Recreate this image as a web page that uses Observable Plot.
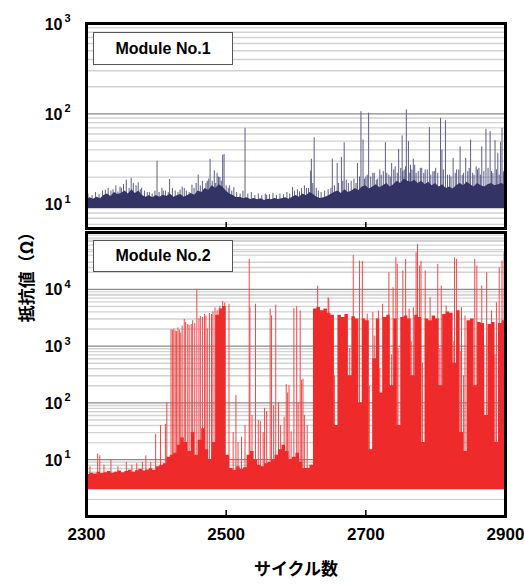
<!DOCTYPE html>
<html><head><meta charset="utf-8">
<script src="https://cdn.jsdelivr.net/npm/d3@7"></script>
<script src="https://cdn.jsdelivr.net/npm/@observablehq/plot@0.6"></script>
<style>
body{margin:0;background:#fff;}
#wrap{position:relative;width:524px;height:584px;overflow:hidden;background:#fff;}
#wrap svg{display:block;}
.legend{position:absolute;left:93px;width:140px;border:1px solid #555;background:#fff;font:bold 16px "Liberation Sans",Arial,sans-serif;display:flex;align-items:center;justify-content:center;box-sizing:border-box;color:#000;}
#ylab{position:absolute;left:25px;top:273px;transform:translate(-50%,-50%) rotate(-90deg);white-space:nowrap;font:bold 17px "Noto Sans CJK JP",sans-serif;color:#000;}
</style></head><body>
<div id="wrap"></div>
<script>
// ---- data ----
const xTicks = [2300, 2500, 2700, 2900];
const innerTicks = [2500, 2700];
const cycles = d3.range(2300, 2901, 5);

// Module No.1: upper edge of dense band (every 5 cycles), band floor, spikes
const m1Upper = [
 11.2,11.8,11.4,12.0,11.5,12.5,13.0,12.2,13.5,12.8,
 13.2,14.0,13.0,14.5,13.2,14.0,12.5,12.0,12.4,11.8,
 12.5,12.0,12.6,12.2,13.0,12.0,12.4,12.8,12.0,12.5,
 13.2,12.6,14.0,13.5,15.0,14.2,16.0,15.0,16.5,15.5,
 14.0,13.0,12.5,11.8,12.0,11.5,11.8,11.3,11.6,11.2,
 11.5,11.0,11.4,11.2,11.6,11.3,11.5,11.8,11.4,12.0,
 12.5,12.0,13.0,12.4,13.5,12.8,12.0,11.6,11.8,12.2,
 12.8,13.5,14.0,13.2,14.5,13.5,14.0,15.0,14.2,15.5,
 16.0,14.8,15.5,16.5,15.2,16.0,17.0,15.5,16.5,18.0,
 17.0,19.0,18.0,17.5,18.5,17.0,18.0,16.5,17.5,16.0,
 17.0,15.5,16.5,15.0,15.5,14.8,16.0,17.0,16.0,17.5,
 16.5,15.5,17.0,16.0,15.5,16.5,17.0,16.0,16.5,17.0,
 16.0];
const m1Floor = 9.0;
const m1SpikeCycle = [2327,2335,2345,2350,2357,2364,2374,2379,2390,2401,2410,2419,2434,2440,2451,2460,2468,2473,2477,2483,2487,2491,2495,2497,2505,2511,2527,2558,2595,2605,2615,2621,2622,2626,2629,2652,2659,2665,2669,2672,2688,2693,2696,2700,2704,2710,2715,2720,2728,2733,2737,2742,2747,2752,2755,2758,2761,2764,2768,2772,2780,2785,2791,2796,2800,2807,2809,2814,2820,2825,2830,2835,2840,2843,2850,2855,2858,2862,2866,2872,2878,2880,2885,2889,2893,2895,2898];
const m1SpikePeak  = [14.3,14,13.7,15,18.5,19.5,17.3,15.1,13.5,30,14,18.8,14.3,15,16.3,21,14,18,31.4,23.5,22,19.8,34.8,35.6,16,15.3,69.3,12.6,15.3,13.7,15,23.2,31.6,54.6,15,31.6,28.3,33,48,18.5,28.3,106,51.4,20,101.8,22,18.5,24,48,21,28.3,26,40.5,57,24,110.8,49.3,27,31.6,22,25,24,70.4,22.8,25,89.6,39.8,84,21,32.2,24,43.2,22,32.2,51.4,21,26,25,43.2,67.5,63.7,23,50.6,36.6,48.5,69.3,22];
const m1SmallCycle = [2302,2308,2313,2318,2323,2331,2338,2342,2348,2353,2361,2367,2371,2377,2383,2387,2394,2398,2404,2408,2413,2417,2423,2427,2431,2437,2443,2447,2454,2457,2463,2466,2471,2475,2480,2485,2489,2493,2500,2503,2508,2515,2520,2524,2531,2536,2541,2546,2551,2556,2562,2567,2572,2577,2582,2587,2591,2598,2602,2608,2612,2618,2624,2632,2636,2641,2646,2650,2655,2661,2667,2675,2679,2683,2686,2691,2698,2702,2707,2712,2717,2722,2725,2730,2735,2740,2745,2750,2753,2757,2763,2766,2770,2775,2778,2783,2788,2793,2798,2803,2811,2817,2822,2828,2833,2838,2846,2848,2853,2860,2864,2869,2875,2882,2887,2891,2897,2900];
const m1SmallPeak  = [13,12.5,13.5,12.8,14,15,14.5,16,15.5,16.5,15,17,16,14.5,14,13.5,13,14,13.5,15,14,13.5,15,14,13.5,15.5,14,13.5,15,17,16,18,17,19,18,17,20,18,16,15,14,13.5,13,14,13,13.5,12.5,13,12.5,13,12.8,13.2,12.5,13,12.8,13.5,13,14,14.5,15,16,15,17,14,13.5,14,14.5,15,16,17,18,17,18,19,17,20,19,21,20,22,19,21,23,22,20,24,22,25,23,26,22,24,27,23,25,22,24,21,23,22,24,21,20,22,24,21,23,25,22,24,21,23,25,22,24,21,23,22];

// Module No.2
const m2Upper = [
 5.5,5.8,5.6,6.0,5.7,5.9,6.2,5.8,6.0,6.3,
 5.9,6.2,6.5,6.0,6.4,6.8,6.3,6.6,6.9,6.5,
 7.5,8.0,8.5,11,12,13,18,24,20,14,
 30,12,22,35,15,10,20,3500,4500,5000,
 12,7,6.5,7.5,6.8,7.2,12,14,10,8,
 7.5,8.5,9,10,12,15,18,14,10,11,
 13,9,7,7,8,4500,4800,4200,4500,3800,
 3500,40,3500,3200,3600,300,3300,3000,100,3000,
 2800,15,600,3000,150,3200,3500,200,3000,40,
 3200,3400,3000,300,3500,3200,20,3000,2800,3400,
 3000,200,3600,4000,3800,500,4200,30,14,2800,
 3000,200,2600,2500,60,2400,2600,20,2500,2800,
 2400];
const m2Floor = 3.0;
const m2SpikeCycle = [2305,2316,2319,2325,2335,2345,2357,2365,2372,2380,2385,2392,2399,2406,2413,2415,2421,2423,2425,2427,2429,2431,2433,2435,2437,2440,2442,2445,2447,2450,2452,2455,2458,2461,2463,2466,2469,2471,2473,2476,2479,2481,2484,2487,2489,2491,2495,2498,2504,2510,2514,2517,2522,2527,2533,2534,2537,2542,2546,2549,2553,2555,2558,2563,2565,2568,2571,2575,2578,2583,2586,2588,2590,2593,2597,2601,2603,2606,2608,2610,2612,2616,2631,2646,2647,2655,2677,2682,2688,2691,2695,2702,2705,2710,2712,2718,2720,2724,2733,2737,2739,2743,2745,2746,2753,2757,2762,2765,2768,2772,2774,2777,2779,2781,2785,2792,2796,2803,2806,2808,2815,2826,2827,2830,2836,2837,2840,2842,2853,2856,2859,2866,2869,2873,2880,2885,2887,2891,2895,2898];
const m2SpikePeak  = [7.5,12.6,11.7,8,10,7.5,9,8,8.5,9,11.7,9,28,40,42,100,1960,1900,2000,1850,1800,2100,1900,1700,2250,2950,2600,2400,2300,2400,2800,2500,10000,3000,3350,3200,3600,3400,2000,3750,3600,4000,4700,4200,3000,5000,6100,5750,5450,30,135,20,25,40,33600,4750,60,5450,49,47,30,80,70,4470,3400,90,5240,100,40,56,210,150,200,31,4580,4960,100,4170,250,260,60,40,11300,7150,6760,300,900,39500,600,31400,31000,3640,200,3900,1500,4170,400,5450,19600,700,10700,36000,27500,900,21000,33600,4470,1200,4750,44000,61600,25700,31000,500,21000,7150,1500,27500,900,11400,5100,1200,36000,33600,800,4750,300,3400,600,33600,25700,11400,1000,19600,4170,700,5830,24000,31400,44000];

// ---- drawing ----
const font = "Liberation Sans, Arial, sans-serif";
function gridValues(k0, k1) {
  const minor = [], major = [];
  for (let k = k0; k <= k1; k++) {
    major.push(10 ** k);
    for (let m = 2; m <= 9; m++) minor.push(m * 10 ** k);
  }
  return {minor, major};
}

function panel({upper, floor, sc, sp, smc, smp, color, spikeColor, yDomain, grid, decades, height, mt, mb, curve, bottom}) {
  const idx = d3.range(upper.length);
  const sidx = d3.range(sc.length);
  const h = height - mt - mb;
  const marks = [
    Plot.ruleY(grid.minor, {stroke: "#d2d2d2", strokeWidth: 1.4}),
    Plot.ruleY(grid.major, {stroke: "#8a8a8a", strokeWidth: 1.3}),
    Plot.ruleX(sidx, {x: i => sc[i], y1: () => floor, y2: i => sp[i], stroke: spikeColor, strokeWidth: 1})
  ];
  if (smc) {
    marks.push(Plot.ruleX(d3.range(smc.length), {x: i => smc[i], y1: () => floor, y2: i => smp[i], stroke: color, strokeWidth: 1, strokeOpacity: 0.8}));
  }
  marks.push(
    Plot.areaY(idx, {x: i => cycles[i], y1: () => floor, y2: i => upper[i], fill: color, curve}),
    Plot.ruleX(innerTicks, {stroke: "#000", strokeWidth: 1.5, insetTop: h - 6}),
    Plot.frame({stroke: "#000", strokeWidth: 3}),
    Plot.text(decades, {y: d => d, frameAnchor: "left", text: () => "10", dx: -24, dy: 1, textAnchor: "end", fontSize: 16, fontWeight: "bold", fill: "#000"}),
    Plot.text(decades, {y: d => d, frameAnchor: "left", text: d => String(Math.round(Math.log10(d))), dx: -16, dy: -5, textAnchor: "end", fontSize: 11, fontWeight: "bold", fill: "#000"})
  );
  if (bottom) {
    marks.push(Plot.text(xTicks, {x: d => d, frameAnchor: "bottom", text: d => String(d), dy: 23, fontSize: 17, fontWeight: "bold", fill: "#000"}));
    marks.push(Plot.text(["サイクル数"], {frameAnchor: "bottom", text: d => d, dy: 58, fontSize: 17, fontWeight: "bold", fontFamily: "Noto Sans CJK JP", fill: "#000"}));
  }
  return Plot.plot({
    width: 524, height, marginTop: mt, marginBottom: mb, marginLeft: 86, marginRight: 19,
    style: {fontFamily: font, background: "transparent", overflow: "visible"},
    x: {domain: [2300, 2900], axis: null},
    y: {type: "log", domain: yDomain, axis: null},
    marks
  });
}

const wrap = document.getElementById("wrap");
wrap.append(panel({
  upper: m1Upper, floor: m1Floor, sc: m1SpikeCycle, sp: m1SpikePeak, smc: m1SmallCycle, smp: m1SmallPeak,
  color: "#333366", spikeColor: "#5c5c8a", yDomain: [5.4, 1000],
  grid: gridValues(0, 2), decades: [10, 100, 1000],
  height: 230, mt: 23, mb: 2, curve: "linear", bottom: false
}));
wrap.append(panel({
  upper: m2Upper, floor: m2Floor, sc: m2SpikeCycle, sp: m2SpikePeak,
  color: "#ee2a2a", spikeColor: "#f04848", yDomain: [1, 100000],
  grid: gridValues(0, 4), decades: [10, 100, 1000, 10000],
  height: 354, mt: 2, mb: 68, curve: "step-after", bottom: true
}));

const l1 = document.createElement("div");
l1.className = "legend"; l1.style.top = "32px"; l1.style.height = "33px"; l1.textContent = "Module No.1";
const l2 = document.createElement("div");
l2.className = "legend"; l2.style.top = "240px"; l2.style.height = "32px"; l2.textContent = "Module No.2";
const yl = document.createElement("div");
yl.id = "ylab"; yl.textContent = "抵抗値（Ω）";
wrap.append(l1, l2, yl);
</script>
</body></html>
